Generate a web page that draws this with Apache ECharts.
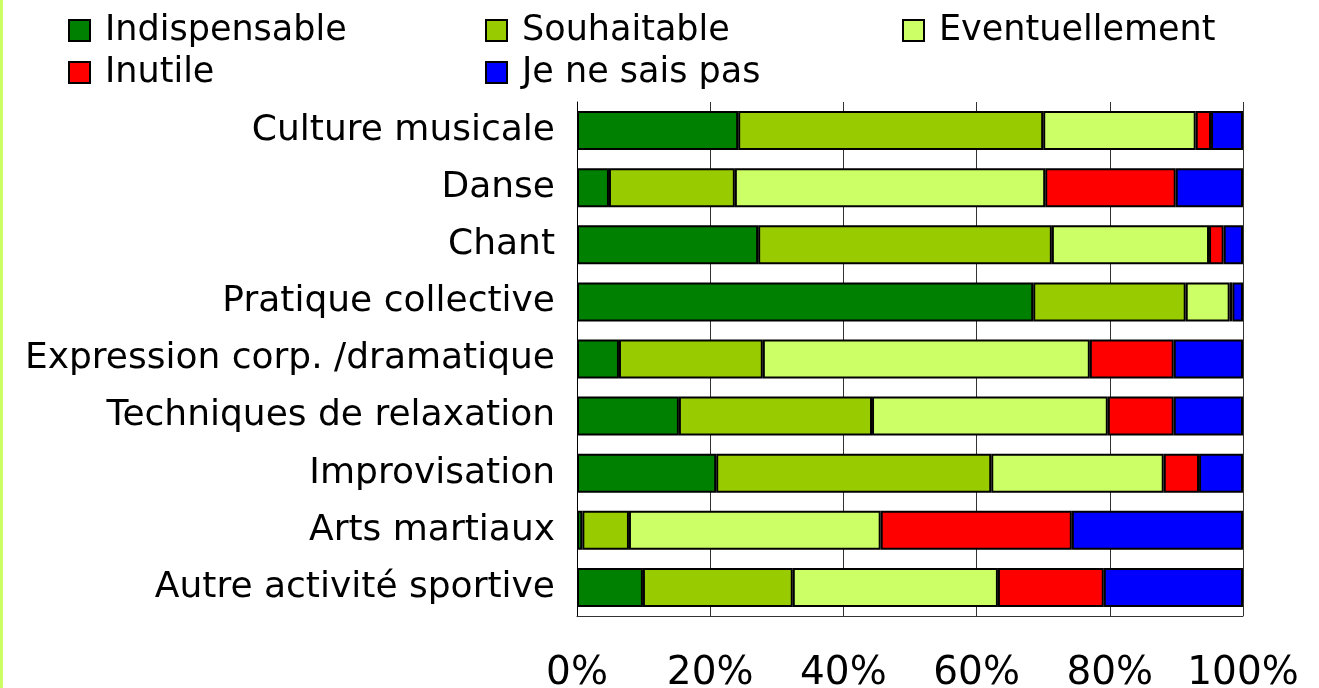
<!DOCTYPE html>
<html>
<head>
    <meta charset="utf-8">
    <script src="https://cdn.jsdelivr.net/npm/echarts@6/dist/echarts.min.js"></script>
    <style>
        body { margin: 0; background: #fff; }
        #main { width: 1319px; height: 688px; border-left: 3px solid #ccff66; box-sizing: border-box; }
    </style>
</head>
<body>
    <div id="main"></div>
    <script type="text/javascript">
        var categories = ['Culture musicale', 'Danse', 'Chant', 'Pratique collective',
            'Expression corp. /dramatique', 'Techniques de relaxation', 'Improvisation',
            'Arts martiaux', 'Autre activité sportive'];
        var seriesNames = ['Indispensable', 'Souhaitable', 'Eventuellement', 'Inutile', 'Je ne sais pas'];
        var colors = ['#008000', '#99cc00', '#ccff66', '#ff0000', '#0000ff'];

        // percentages, one value per category
        var indispensable = [24.2, 4.8, 27.2, 68.5, 6.3, 15.3, 20.9, 0.8, 9.9];
        var souhaitable = [45.8, 18.9, 44.1, 22.9, 21.6, 29.0, 41.3, 7.0, 22.5];
        var eventuellement = [22.9, 46.6, 23.6, 6.6, 49.1, 35.4, 25.9, 37.8, 30.8];
        var inutile = [2.3, 19.6, 2.2, 0.4, 12.6, 9.9, 5.3, 28.7, 15.9];
        var neSaisPas = [4.8, 10.1, 2.9, 1.6, 10.4, 10.4, 6.6, 25.7, 20.9];
        var values = [indispensable, souhaitable, eventuellement, inutile, neSaisPas];

        var myChart = echarts.init(document.getElementById('main'));

        // legend positions (three columns, two rows)
        var legendPos = [[60, 8], [477, 8], [894, 8], [60, 50], [477, 50]];
        var legends = seriesNames.map(function (name, i) {
            return {
                data: [name],
                left: legendPos[i][0],
                top: legendPos[i][1],
                icon: 'rect',
                itemWidth: 21,
                itemHeight: 21,
                itemStyle: { borderColor: '#000', borderWidth: 2 },
                textStyle: {
                    fontFamily: 'DejaVu Sans',
                    fontSize: 35,
                    color: '#000',
                    padding: [0, 0, 0, 10]
                }
            };
        });

        var series = seriesNames.map(function (name, i) {
            return {
                name: name,
                type: 'bar',
                stack: 'total',
                barWidth: 39,
                data: values[i],
                itemStyle: { color: colors[i], borderColor: '#000', borderWidth: 2 }
            };
        });

        var option = {
            animation: false,
            legend: legends,
            grid: { left: 574, right: 76, top: 102, bottom: 72, outerBoundsMode: 'none', containLabel: false },
            xAxis: {
                type: 'value',
                min: 0,
                max: 100,
                interval: 20,
                axisLine: { show: true, lineStyle: { color: '#333', width: 1 } },
                axisTick: { show: false },
                splitLine: { show: true, lineStyle: { color: '#333', width: 1 } },
                axisLabel: {
                    formatter: '{value}%',
                    fontFamily: 'DejaVu Sans',
                    fontSize: 39,
                    color: '#000',
                    margin: 38
                }
            },
            yAxis: {
                type: 'category',
                inverse: true,
                data: categories,
                axisLine: { show: true, lineStyle: { color: '#000', width: 1 } },
                axisTick: { show: false },
                axisLabel: {
                    fontFamily: 'DejaVu Sans',
                    fontSize: 36,
                    color: '#000',
                    margin: 22
                }
            },
            series: series
        };

        myChart.setOption(option);
    </script>
</body>
</html>
